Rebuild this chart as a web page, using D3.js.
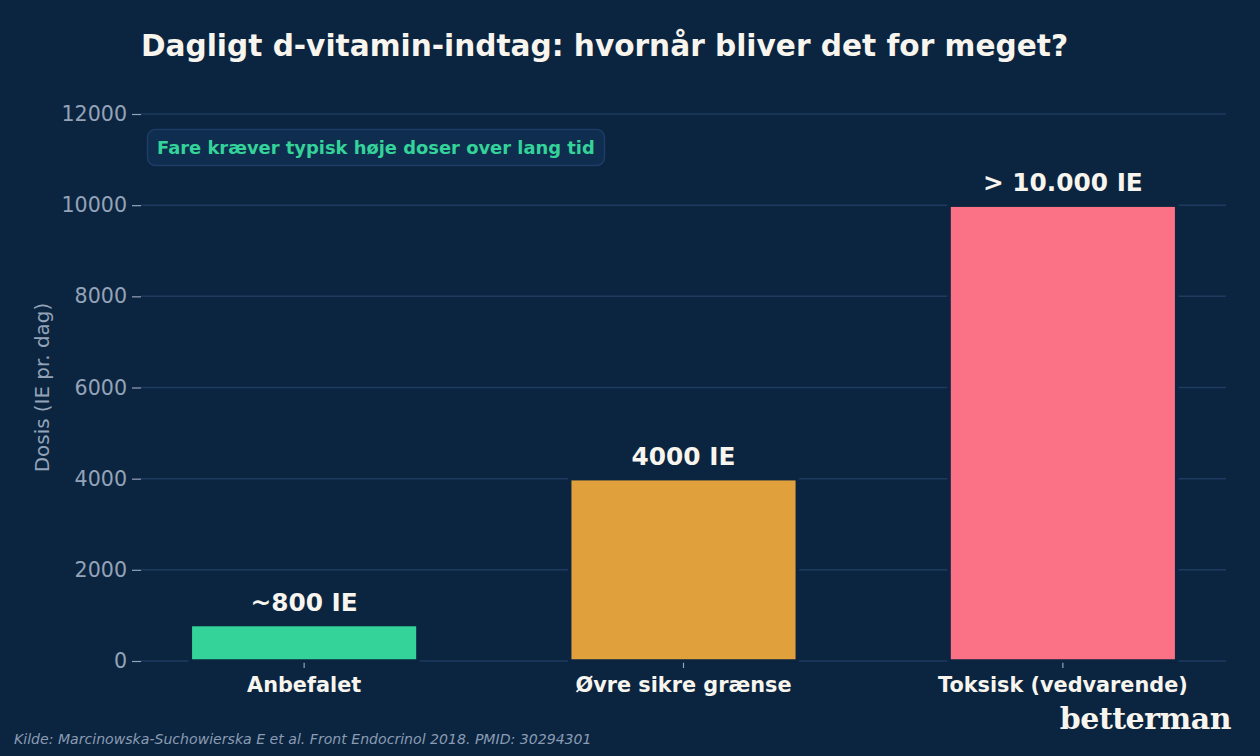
<!DOCTYPE html>
<html>
<head>
<meta charset="utf-8">
<script src="https://cdn.jsdelivr.net/npm/d3@7"></script>
<style>
  body { margin: 0; background: #0b2540; }
  svg { display: block; }
</style>
</head>
<body>
<div id="chart"></div>
<script>
// chart data
const categories = ["Anbefalet", "Øvre sikre grænse", "Toksisk (vedvarende)"];
const doses = [800, 4000, 10000];
const barLabels = ["~800 IE", "4000 IE", "> 10.000 IE"];
const barColors = ["#34d399", "#e0a13c", "#fb7185"];
const yTicks = [0, 2000, 4000, 6000, 8000, 10000, 12000];

const width = 1260;
const height = 756;
const margin = {left: 141, right: 34, top: 114, bottom: 95};
const bg = "#0b2540";

const svg = d3.select("#chart")
  .append("svg")
  .attr("width", width)
  .attr("height", height);

svg.append("rect")
  .attr("width", width)
  .attr("height", height)
  .attr("fill", bg);

// scales
const xScale = d3.scaleBand()
  .domain(categories)
  .range([margin.left, width - margin.right])
  .paddingInner(0.4)
  .paddingOuter(0.13);

const yScale = d3.scaleLinear()
  .domain([0, 12000])
  .range([height - margin.bottom, margin.top]);

// gridlines
svg.append("g")
  .selectAll("line")
  .data(yTicks)
  .enter()
  .append("line")
    .attr("x1", margin.left)
    .attr("x2", width - margin.right)
    .attr("y1", d => yScale(d))
    .attr("y2", d => yScale(d))
    .attr("stroke", "#1e3a5f")
    .attr("stroke-width", 1.5);

// y axis
const yAxis = svg.append("g")
  .attr("transform", `translate(${margin.left}, 0)`)
  .call(d3.axisLeft(yScale).tickValues(yTicks).tickFormat(d3.format("d")).tickSize(9).tickPadding(5));
yAxis.select(".domain").remove();
yAxis.selectAll("line").attr("stroke", "#94a3b8").attr("stroke-width", 1.2);
yAxis.selectAll("text")
  .attr("fill", "#94a3b8")
  .attr("font-family", "DejaVu Sans")
  .attr("font-size", "20.6px");

// x axis
const xAxis = svg.append("g")
  .attr("transform", `translate(0, ${height - margin.bottom})`)
  .call(d3.axisBottom(xScale).tickSize(7).tickPadding(9));
xAxis.select(".domain").remove();
xAxis.selectAll("line").attr("stroke", "#94a3b8").attr("stroke-width", 1.2);
xAxis.selectAll("text")
  .attr("fill", "#f8f5ef")
  .attr("font-family", "DejaVu Sans")
  .attr("font-weight", "bold")
  .attr("font-size", "20.8px");

// bars
svg.selectAll(".bar")
  .data(doses)
  .enter()
  .append("rect")
    .attr("class", "bar")
    .attr("x", (d, i) => xScale(categories[i]))
    .attr("y", d => yScale(d))
    .attr("width", xScale.bandwidth())
    .attr("height", d => yScale(0) - yScale(d))
    .attr("fill", (d, i) => barColors[i])
    .attr("stroke", bg)
    .attr("stroke-width", 3.5);

// value labels
svg.selectAll(".bar-label")
  .data(doses)
  .enter()
  .append("text")
    .attr("class", "bar-label")
    .attr("x", (d, i) => xScale(categories[i]) + xScale.bandwidth() / 2)
    .attr("y", d => yScale(d) - 14)
    .attr("text-anchor", "middle")
    .attr("fill", "#f8f5ef")
    .attr("font-family", "DejaVu Sans")
    .attr("font-weight", "bold")
    .attr("font-size", "24.8px")
    .text((d, i) => barLabels[i]);

// y label
svg.append("text")
  .attr("transform", `translate(49, ${(yScale(0) + yScale(12000)) / 2}) rotate(-90)`)
  .attr("text-anchor", "middle")
  .attr("fill", "#94a3b8")
  .attr("font-family", "DejaVu Sans")
  .attr("font-size", "19.9px")
  .text("Dosis (IE pr. dag)");

// title
svg.append("text")
  .attr("x", margin.left)
  .attr("y", 56)
  .attr("fill", "#f8f5ef")
  .attr("font-family", "DejaVu Sans")
  .attr("font-weight", "bold")
  .attr("font-size", "29.6px")
  .text("Dagligt d-vitamin-indtag: hvornår bliver det for meget?");

// note box
const note = svg.append("g");
note.append("rect")
  .attr("x", 147.5)
  .attr("y", 129.5)
  .attr("width", 457)
  .attr("height", 36)
  .attr("rx", 8)
  .attr("fill", "#0f2d4f")
  .attr("stroke", "#1d3d66")
  .attr("stroke-width", 1.5);
note.append("text")
  .attr("x", 157)
  .attr("y", 153.5)
  .attr("fill", "#34d399")
  .attr("font-family", "DejaVu Sans")
  .attr("font-weight", "bold")
  .attr("font-size", "17.9px")
  .text("Fare kræver typisk høje doser over lang tid");

// source
svg.append("text")
  .attr("x", 14)
  .attr("y", 744)
  .attr("fill", "#8a9bb3")
  .attr("font-family", "DejaVu Sans")
  .attr("font-style", "italic")
  .attr("font-size", "14.1px")
  .text("Kilde: Marcinowska-Suchowierska E et al. Front Endocrinol 2018. PMID: 30294301");

// logo
svg.append("text")
  .attr("x", 1231)
  .attr("y", 729)
  .attr("text-anchor", "end")
  .attr("fill", "#f8f5ef")
  .attr("font-family", "DejaVu Serif")
  .attr("font-weight", "bold")
  .attr("font-size", "30px")
  .attr("letter-spacing", "-0.5px")
  .text("betterman");
</script>
</body>
</html>
